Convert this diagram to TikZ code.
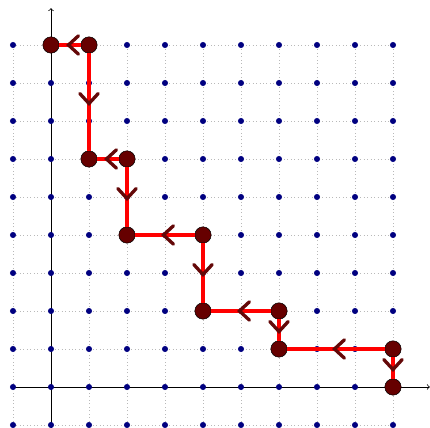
\documentclass[tikz,border=0pt]{standalone}
\usetikzlibrary{decorations.markings}
\definecolor{vertexred}{RGB}{102,0,0}
\definecolor{chevred}{RGB}{100,8,8}
\definecolor{dotblue}{RGB}{0,0,128}
\tikzset{
  gridline/.style={gray!55, dotted, line width=0.6pt},
  axis/.style={black, line width=0.6pt, ->},
  griddot/.style={circle, fill=dotblue, inner sep=0pt, minimum size=1.6mm},
  vertex/.style={circle, fill=vertexred, draw=black, line width=0.4pt, inner sep=0pt, minimum size=4.3mm},
  edge/.style={red, line width=3.5pt,
    postaction={decorate, decoration={markings, mark=at position 0.5 with {
      \draw[chevred, line width=2.5pt, line cap=round, line join=miter]
        (-2.2mm,2.4mm) -- (0.4mm,0mm) -- (-2.2mm,-2.4mm);}}}},
}
\begin{document}
\begin{tikzpicture}[x=1cm,y=1cm]
  \useasboundingbox (-1.342,-1.079) rectangle (9.974,10.184);
  % dotted lattice
  \foreach \k in {-1,...,9} {
    \draw[gridline] (\k,-1) -- (\k,9);
    \draw[gridline] (-1,\k) -- (9,\k);
  }
  % axes
  \coordinate (xs) at (-1,0);
  \coordinate (xe) at (9.97,0);
  \coordinate (ys) at (0,-1.1);
  \coordinate (ye) at (0,9.97);
  \draw[axis] (xs) -- (xe);
  \draw[axis] (ys) -- (ye);
  % lattice points
  \foreach \i in {-1,...,9} {
    \foreach \j in {-1,...,9} {
      \node[griddot] at (\i,\j) {};
    }
  }
  % lattice path vertices
  \node[vertex] (p0)  at (0,9) {};
  \node[vertex] (p1)  at (1,9) {};
  \node[vertex] (p2)  at (1,6) {};
  \node[vertex] (p3)  at (2,6) {};
  \node[vertex] (p4)  at (2,4) {};
  \node[vertex] (p5)  at (4,4) {};
  \node[vertex] (p6)  at (4,2) {};
  \node[vertex] (p7)  at (6,2) {};
  \node[vertex] (p8)  at (6,1) {};
  \node[vertex] (p9)  at (9,1) {};
  \node[vertex] (p10) at (9,0) {};
  % path steps: horizontal ones run leftwards, vertical ones downwards
  \draw[edge] (p1) -- (p0);
  \draw[edge] (p1) -- (p2);
  \draw[edge] (p3) -- (p2);
  \draw[edge] (p3) -- (p4);
  \draw[edge] (p5) -- (p4);
  \draw[edge] (p5) -- (p6);
  \draw[edge] (p7) -- (p6);
  \draw[edge] (p7) -- (p8);
  \draw[edge] (p9) -- (p8);
  \draw[edge] (p9) -- (p10);
\end{tikzpicture}
\end{document}
